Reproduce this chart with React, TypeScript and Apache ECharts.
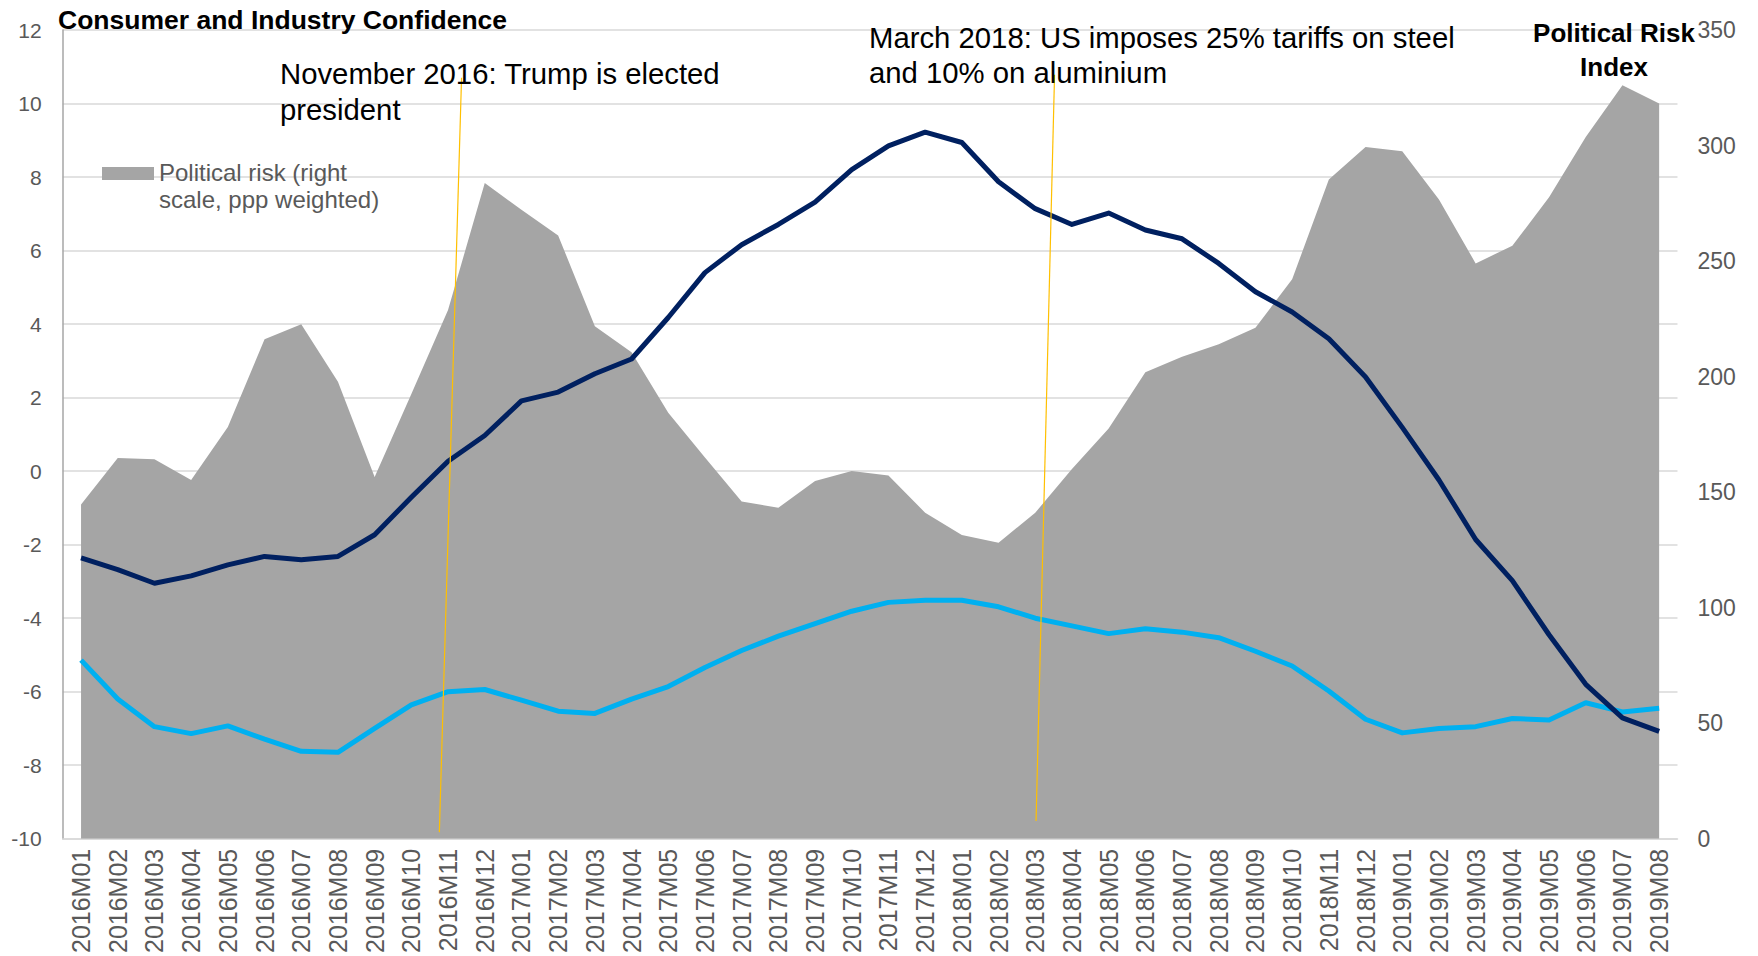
import React, { useEffect, useRef } from 'react';
import * as echarts from 'echarts';

const categories = [
  '2016M01', '2016M02', '2016M03', '2016M04', '2016M05', '2016M06', '2016M07', '2016M08', '2016M09', '2016M10', '2016M11', '2016M12',
  '2017M01', '2017M02', '2017M03', '2017M04', '2017M05', '2017M06', '2017M07', '2017M08', '2017M09', '2017M10', '2017M11', '2017M12',
  '2018M01', '2018M02', '2018M03', '2018M04', '2018M05', '2018M06', '2018M07', '2018M08', '2018M09', '2018M10', '2018M11', '2018M12',
  '2019M01', '2019M02', '2019M03', '2019M04', '2019M05', '2019M06', '2019M07', '2019M08',
];

// Political risk index (right scale)
const politicalRisk = [
  144.6, 164.8, 164.2, 155.3, 178.2, 216.2, 222.7, 197.8, 156.5, 192.5, 228.8, 283.8,
  272.2, 261.1, 221.8, 210.5, 184.4, 165.0, 146.0, 143.2, 154.8, 159.1, 157.2, 141.1,
  131.4, 128.1, 141.1, 160.0, 177.5, 201.9, 208.6, 214.0, 221.1, 242.1, 285.3, 299.4,
  297.5, 276.7, 249.0, 256.6, 277.6, 303.7, 326.1, 318.2,
];

// Dark navy line (left scale)
const industryConfidence = [
  -2.36, -2.68, -3.05, -2.85, -2.55, -2.32, -2.41, -2.32, -1.73, -0.71, 0.27, 0.97,
  1.91, 2.15, 2.65, 3.05, 4.18, 5.4, 6.16, 6.71, 7.32, 8.2, 8.85, 9.22,
  8.94, 7.87, 7.14, 6.71, 7.02, 6.56, 6.32, 5.65, 4.88, 4.33, 3.6, 2.56,
  1.19, -0.24, -1.86, -2.98, -4.45, -5.8, -6.71, -7.08,
];

// Light blue line (left scale)
const consumerConfidence = [
  -5.14, -6.2, -6.95, -7.14, -6.93, -7.29, -7.62, -7.65, -7.0, -6.36, -6.0, -5.94,
  -6.23, -6.53, -6.59, -6.2, -5.86, -5.34, -4.88, -4.49, -4.15, -3.81, -3.57, -3.51,
  -3.51, -3.69, -4.0, -4.21, -4.42, -4.29, -4.38, -4.53, -4.9, -5.3, -5.98, -6.75,
  -7.12, -7.0, -6.95, -6.73, -6.77, -6.3, -6.55, -6.45,
];

const leftMin = -10;
const leftMax = 12;
const leftInterval = 2;
const rightMin = 0;
const rightMax = 350;
const rightInterval = 50;

const titleText = 'Consumer and Industry Confidence';
const rightTitleText = 'Political Risk\nIndex';
const legendText = 'Political risk (right\nscale, ppp weighted)';

const events = [
  { category: '2016M11', text: 'November 2016: Trump is elected\npresident', top: 10.7, bottom: -9.82 },
  { category: '2018M03', text: 'March 2018: US imposes 25% tariffs on steel\nand 10% on aluminium', top: 10.78, bottom: -9.52 },
];

const FONT = "'Liberation Sans', Arial, sans-serif";

export default function App() {
  const ref = useRef<HTMLDivElement>(null);

  useEffect(() => {
    if (!ref.current) return;
    const chart = echarts.init(ref.current, undefined, { renderer: 'svg' });

    chart.setOption({
      animation: false,
      textStyle: { fontFamily: FONT },
      grid: { left: 62.7, right: 80.5, top: 30, bottom: 116.4, containLabel: false },
      xAxis: {
        type: 'category',
        data: categories,
        boundaryGap: true,
        axisLine: { onZero: false, lineStyle: { color: '#D9D9D9', width: 1.5 } },
        axisTick: { show: false },
        axisLabel: { rotate: 90, interval: 0, fontSize: 25, color: '#595959', margin: 10, fontFamily: FONT },
        splitLine: { show: false },
      },
      yAxis: [
        {
          type: 'value',
          min: leftMin,
          max: leftMax,
          interval: leftInterval,
          position: 'left',
          axisLine: { show: true, lineStyle: { color: '#A6A6A6', width: 1.5 } },
          axisTick: { show: false },
          splitLine: { show: true, lineStyle: { color: '#D9D9D9', width: 1.5 } },
          axisLabel: { fontSize: 21, color: '#595959', margin: 21, fontFamily: FONT },
        },
        {
          type: 'value',
          min: rightMin,
          max: rightMax,
          interval: rightInterval,
          position: 'right',
          axisLine: { show: false },
          axisTick: { show: false },
          splitLine: { show: false },
          axisLabel: { fontSize: 23, color: '#595959', margin: 20, fontFamily: FONT },
        },
      ],
      series: [
        {
          name: 'Political risk',
          type: 'line',
          yAxisIndex: 1,
          data: politicalRisk,
          symbol: 'none',
          lineStyle: { width: 0, opacity: 0 },
          itemStyle: { color: '#A5A5A5' },
          areaStyle: { color: '#A5A5A5', opacity: 1 },
          z: 1,
        },
        {
          name: 'Consumer confidence',
          type: 'line',
          yAxisIndex: 0,
          data: consumerConfidence,
          symbol: 'none',
          lineStyle: { color: '#00B0F0', width: 5, join: 'round' },
          itemStyle: { color: '#00B0F0' },
          z: 2,
        },
        {
          name: 'Industry confidence',
          type: 'line',
          yAxisIndex: 0,
          data: industryConfidence,
          symbol: 'none',
          lineStyle: { color: '#002060', width: 5, join: 'round' },
          itemStyle: { color: '#002060' },
          z: 3,
        },
      ],
    });

    const offsets = [
      { dxTop: 13.5, dxBottom: -8.7 },
      { dxTop: 19.3, dxBottom: 0.8 },
    ];
    const lineEls = events.map((ev, i) => {
      const idx = categories.indexOf(ev.category);
      const pTop = chart.convertToPixel({ xAxisIndex: 0, yAxisIndex: 0 }, [idx, ev.top]) as number[];
      const pBot = chart.convertToPixel({ xAxisIndex: 0, yAxisIndex: 0 }, [idx, ev.bottom]) as number[];
      return {
        type: 'line',
        z: 100,
        silent: true,
        shape: { x1: pTop[0] + offsets[i].dxTop, y1: pTop[1], x2: pBot[0] + offsets[i].dxBottom, y2: pBot[1] },
        style: { stroke: '#FFC000', lineWidth: 1.2 },
      };
    });

    chart.setOption({
      graphic: [
        ...lineEls,
        {
          type: 'text', x: 58, y: 20, z: 110,
          style: { text: titleText, fontSize: 26.5, fontWeight: 'bold', fill: '#000', fontFamily: FONT, align: 'left', verticalAlign: 'middle' },
        },
        {
          type: 'text', x: 1614, y: 50, z: 110,
          style: { text: rightTitleText, fontSize: 26, fontWeight: 'bold', fill: '#000', fontFamily: FONT, align: 'center', verticalAlign: 'middle', lineHeight: 34 },
        },
        {
          type: 'text', x: 280, y: 91, z: 110,
          style: { text: events[0].text, fontSize: 29.3, fill: '#000', fontFamily: FONT, align: 'left', verticalAlign: 'middle', lineHeight: 36 },
        },
        {
          type: 'text', x: 869, y: 54.5, z: 110,
          style: { text: events[1].text, fontSize: 29.3, fill: '#000', fontFamily: FONT, align: 'left', verticalAlign: 'middle', lineHeight: 35 },
        },
        {
          type: 'rect', z: 110,
          shape: { x: 102, y: 167, width: 52, height: 13 },
          style: { fill: '#A5A5A5' },
        },
        {
          type: 'text', x: 159, y: 186, z: 110,
          style: { text: legendText, fontSize: 24, fill: '#595959', fontFamily: FONT, align: 'left', verticalAlign: 'middle', lineHeight: 27 },
        },
      ],
    });

    return () => {
      chart.dispose();
    };
  }, []);

  return (
    <div
      ref={ref}
      style={{ position: 'fixed', left: 0, top: 0, width: '1758px', height: '956px', background: '#fff' }}
    />
  );
}
